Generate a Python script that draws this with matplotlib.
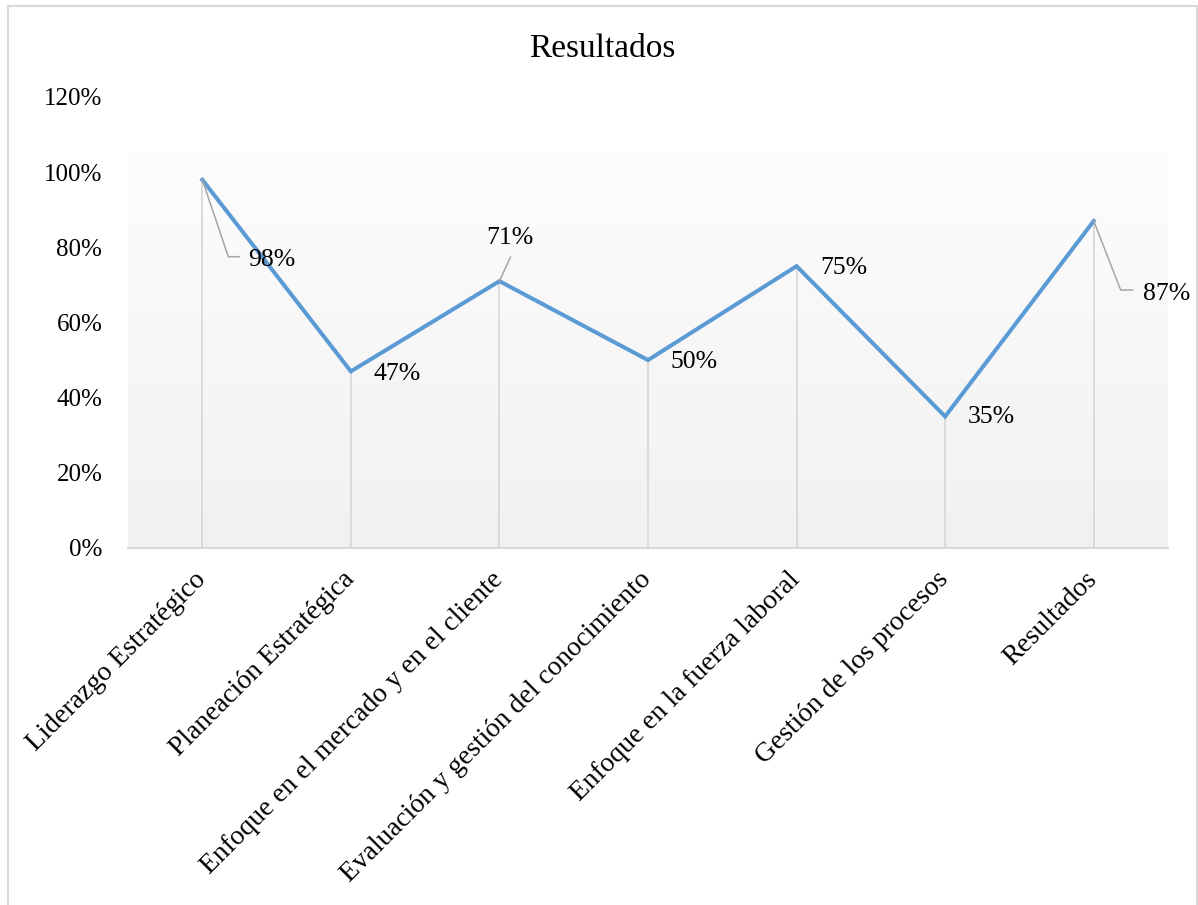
import matplotlib
matplotlib.use("Agg")
import matplotlib.pyplot as plt
import numpy as np
from matplotlib.patches import Rectangle
from matplotlib.lines import Line2D
from matplotlib.transforms import IdentityTransform
from matplotlib.ticker import FuncFormatter

categories = ["Liderazgo Estratégico", "Planeación Estratégica",
              "Enfoque en el mercado y en el cliente",
              "Evaluación y gestión del conocimiento",
              "Enfoque en la fuerza laboral", "Gestión de los procesos",
              "Resultados"]
values = [0.98, 0.47, 0.71, 0.50, 0.75, 0.35, 0.87]
value_labels = ["98%", "47%", "71%", "50%", "75%", "35%", "87%"]
yticks = [0, 0.2, 0.4, 0.6, 0.8, 1.0, 1.2]
title = "Resultados"

plt.rcParams['font.family'] = ['Liberation Serif', 'DejaVu Serif']

W, H = 1198, 905
fig = plt.figure(figsize=(W / 100, H / 100), dpi=100)
fig.patch.set_facecolor("white")

# chart border
fig.patches.append(Rectangle((8 / W, -0.05), (1197 - 8) / W, 1.05 - 6 / H,
                             transform=fig.transFigure, fill=False,
                             edgecolor="#d9d9d9", linewidth=1.5, clip_on=False))

ax = fig.add_axes([128 / W, 1 - 548 / H, 1040 / W, (548 - 97) / H])
x = np.arange(len(categories))
ax.set_xlim(-0.5, len(categories) - 0.5)
ax.set_ylim(0, 1.2)
ax.set_facecolor("none")

# gradient plot area background
grad = np.linspace(0.992, 0.945, 256).reshape(-1, 1)
ax.imshow(np.dstack([grad, grad, grad]), extent=[-0.5, len(categories) - 0.5, 0, 1.05],
          aspect="auto", origin="upper", zorder=0, interpolation="bilinear")

for s in ["top", "right", "left"]:
    ax.spines[s].set_visible(False)
ax.spines["bottom"].set_color("#d9d9d9")
ax.spines["bottom"].set_linewidth(1.5)
ax.spines["bottom"].set_zorder(1)

# drop lines
ax.vlines(x, 0, values, colors="#d9d9d9", linewidth=1.3, zorder=1)
ax.plot(x, values, color="#5b9bd5", linewidth=2.9, zorder=3,
        solid_joinstyle="miter")

ax.set_yticks(yticks)
ax.yaxis.set_major_formatter(FuncFormatter(lambda v, p: f"{v * 100:.0f}%"))
ax.tick_params(axis="y", length=0, pad=18.5, labelsize=18)
ax.set_xticks(x)
ax.set_xticklabels(categories, rotation=45, ha="right", va="center",
                   rotation_mode="anchor", fontsize=19.8)
ax.tick_params(axis="x", length=0, pad=20)

ax.set_zorder(1)

# data labels (offsets in pixels)
offsets = [(46, -80), (23, -3), (10, 43), (22, -2), (24, -2), (23, -1), (49, -73)]
has = ["left", "left", "center", "left", "left", "left", "left"]
for xi, v, lab, (dx, dy), ha in zip(x, values, value_labels, offsets, has):
    ax.annotate(lab, (xi, v), xytext=(dx, dy), textcoords="offset pixels",
                ha=ha, va="center", fontsize=18.5, zorder=5)

# leader lines (display coords)
fig.canvas.draw()
leaders = {0: [(0, 0), (26, -77), (37, -77)],
           2: [(0, 0), (11, 24)],
           6: [(0, 0), (27, -69), (39, -69)]}
for i, pts in leaders.items():
    px, py = ax.transData.transform((x[i], values[i]))
    xs = [px + p[0] for p in pts]
    ys = [py + p[1] for p in pts]
    fig.lines.append(Line2D(xs, ys, transform=IdentityTransform(),
                            color="#a6a6a6", linewidth=1.1, zorder=4))

fig.text(602 / W, 1 - 57 / H, title, ha="center", va="baseline", fontsize=24)

fig.savefig("out.png", dpi=100)
